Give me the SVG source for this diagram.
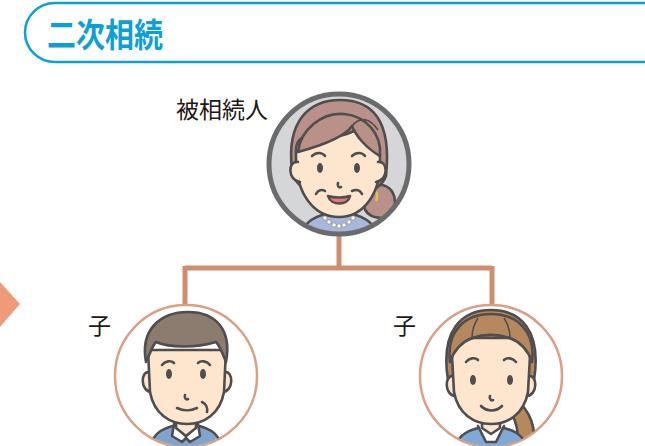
<svg xmlns="http://www.w3.org/2000/svg" width="645" height="446" viewBox="0 0 645 446">
  <style>
    .ttl { font-family: "Noto Sans CJK JP", "Noto Sans", sans-serif; font-weight: 700; font-size: 29px; fill: #0ba0d6; }
    .lbl { font-family: "Noto Sans CJK JP", "Noto Sans", sans-serif; font-size: 23px; fill: #231815; }
    .line { stroke: #cf8d70; stroke-width: 5; fill: none; }
    .ink { stroke: #4f4d4e; stroke-width: 2.6; stroke-linejoin: round; stroke-linecap: round; }
    .skin { fill: #fde6cd; }
    .feat { fill: #4f4d4e; }
  </style>
  <defs>
    <clipPath id="clipTop"><circle cx="339" cy="164" r="68"/></clipPath>
    <clipPath id="clipL"><circle cx="186" cy="376" r="70"/></clipPath>
    <clipPath id="clipR"><circle cx="491" cy="376" r="70"/></clipPath>
  </defs>

  <rect width="645" height="446" fill="#ffffff"/>

  <!-- header bar -->
  <g id="header">
    <rect x="25" y="3" width="650" height="59" rx="30" fill="#ffffff" stroke="#0ba0d6" stroke-width="2.5"/>
    <text class="ttl" transform="translate(47,47) scale(1,1.12)">二次相続</text>
  </g>

  <!-- side pointer -->
  <polygon points="0,282 20,304 0,327" fill="#ef9a78"/>

  <!-- connectors -->
  <g id="connectors">
    <path class="line" d="M339,234 V268 M185,268 H492 M185,266 V305 M492,266 V305"/>
  </g>

  <!-- decedent -->
  <g id="decedent">
    <text class="lbl" x="176" y="118">被相続人</text>
    <circle cx="339" cy="164" r="70" fill="#d5d6d8"/>
    <g clip-path="url(#clipTop)">
      <!-- body -->
      <path class="ink" d="M300,240 C302,222 315,214 339,212 C363,214 376,222 378,240 Z" fill="#a8b7dc"/>
      <!-- necklace -->
      <g fill="#ffffff" stroke="#8a8a8a" stroke-width="0.8">
        <circle cx="325" cy="218" r="2.2"/><circle cx="329" cy="222" r="2.2"/><circle cx="334" cy="225" r="2.2"/>
        <circle cx="339" cy="226" r="2.2"/><circle cx="344" cy="225" r="2.2"/><circle cx="349" cy="222" r="2.2"/>
        <circle cx="353" cy="218" r="2.2"/>
      </g>
      <!-- bun -->
      <path class="ink" d="M372,186 C392,180 400,200 392,212 C384,222 366,218 364,206 Z" fill="#b99189"/>
      <path d="M373,188 C377,191 378,196 376,201" stroke="#e4c24a" stroke-width="2.5" fill="none"/>
      <!-- hair back -->
      <path class="ink" d="M292,170 C286,120 310,100 340,100 C372,100 392,120 386,176 C382,186 374,190 370,190 L308,190 C300,188 294,180 292,170 Z" fill="#b99189"/>
      <!-- face -->
      <path class="ink skin" d="M296,150 C296,140 304,134 312,136 C326,140 346,136 360,128 C372,136 380,146 380,158 C382,192 364,217 339,217 C314,217 296,194 296,158 Z"/>
      <!-- ears -->
      <path class="ink skin" d="M298,162 C288,160 287,180 300,182"/>
      <path class="ink skin" d="M378,162 C388,160 389,180 376,182"/>
      <!-- fringe -->
      <path class="ink" d="M298,152 C300,130 322,112 344,114 C366,116 382,134 380,156 C366,148 356,136 352,126 C344,138 320,146 298,152 Z" fill="#b99189"/>
      <path d="M352,126 C360,116 370,118 378,130" stroke="#4f4d4e" stroke-width="1.6" fill="none"/>
      <!-- brows -->
      <path class="ink" d="M312,156 C316,152 322,152 325,156" fill="none" stroke-width="1.8"/>
      <path class="ink" d="M352,156 C356,152 362,152 365,156" fill="none" stroke-width="1.8"/>
      <!-- eyes -->
      <ellipse class="feat" cx="320" cy="168" rx="3" ry="5"/>
      <ellipse class="feat" cx="357" cy="168" rx="3" ry="5"/>
      <!-- nose -->
      <path class="ink" d="M338,183 C337,186 339,188 341,187" fill="none" stroke-width="1.8"/>
      <!-- cheek lines -->
      <path class="ink" d="M316,194 C318,190 322,189 325,191" fill="none" stroke-width="1.6"/>
      <path class="ink" d="M352,191 C356,189 360,190 362,194" fill="none" stroke-width="1.6"/>
      <!-- mouth -->
      <path class="ink" d="M328,196 C334,198 344,198 350,196 C348,206 331,206 328,196 Z" fill="#e9787a" stroke-width="2"/>
    </g>
    <circle cx="339" cy="164" r="70" fill="none" stroke="#6b6b6d" stroke-width="5"/>
  </g>

  <!-- left child -->
  <g id="child-left">
    <text class="lbl" x="88" y="334">子</text>
    <circle cx="186" cy="376" r="71" fill="#ffffff" stroke="#d9a086" stroke-width="2.5"/>
    <g clip-path="url(#clipL)">
      <!-- shirt -->
      <path class="ink" d="M150,450 C152,432 164,426 186,424 C208,426 220,432 222,450 Z" fill="#7fa5cf"/>
      <path class="ink" d="M174,424 L186,436 L198,424 L200,436 L190,442 L186,438 L182,442 L172,436 Z" fill="#ffffff" stroke-width="2"/>
      <!-- neck -->
      <path class="ink skin" d="M176,418 L176,428 L186,436 L196,428 L196,418 Z" stroke-width="2"/>
      <!-- ears -->
      <path class="ink skin" d="M150,372 C140,370 140,392 152,392"/>
      <path class="ink skin" d="M224,372 C234,370 234,392 222,392"/>
      <!-- face -->
      <path class="ink skin" d="M148,350 L150,392 C154,414 170,424 187,424 C204,424 220,414 224,392 L226,350 Z"/>
      <!-- hair -->
      <path class="ink" d="M146,362 C140,330 160,312 188,312 C216,312 232,330 226,362 C222,352 220,346 216,342 C196,348 170,348 156,342 C152,346 150,354 146,362 Z" fill="#8c7b6f"/>
      <!-- brows -->
      <path class="ink" d="M162,365 C165,361 171,360 174,363" fill="none" stroke-width="1.8"/>
      <path class="ink" d="M198,363 C201,360 207,361 210,365" fill="none" stroke-width="1.8"/>
      <!-- eyes -->
      <ellipse class="feat" cx="169" cy="374" rx="3" ry="5"/>
      <ellipse class="feat" cx="203" cy="374" rx="3" ry="5"/>
      <!-- nose -->
      <path class="ink" d="M185,395 C184,398 186,400 188,399" fill="none" stroke-width="1.8"/>
      <!-- mouth -->
      <path class="ink" d="M177,408 C183,411 191,411 197,408" fill="none" stroke-width="2"/>
      <path class="ink" d="M202,402 C206,404 208,408 207,412" fill="none" stroke-width="1.8"/>
    </g>
  </g>

  <!-- right child -->
  <g id="child-right">
    <text class="lbl" x="393" y="334">子</text>
    <circle cx="491" cy="376" r="71" fill="#ffffff" stroke="#d9a086" stroke-width="2.5"/>
    <g clip-path="url(#clipR)">
      <!-- ponytail -->
      <path class="ink" d="M516,400 C530,410 538,430 532,450 L516,450 C520,432 516,418 508,410 Z" fill="#b5895d"/>
      <!-- shirt -->
      <path class="ink" d="M455,450 C457,434 470,428 491,426 C512,428 525,434 527,450 Z" fill="#7fa9d6"/>
      <path class="ink" d="M478,426 L486,442 L496,442 L504,426" fill="#ffffff" stroke-width="2"/>
      <!-- neck -->
      <path class="ink skin" d="M482,418 L482,428 L491,434 L500,428 L500,418 Z" stroke-width="2"/>
      <!-- hair back -->
      <path class="ink" d="M448,380 C440,330 462,310 491,310 C520,310 542,330 534,380 Z" fill="#b5895d"/>
      <!-- ears -->
      <path class="ink skin" d="M454,376 C444,374 444,396 456,396"/>
      <path class="ink skin" d="M528,376 C538,374 538,396 526,396"/>
      <!-- face -->
      <path class="ink skin" d="M452,356 C452,346 462,340 474,338 L508,338 C520,340 530,346 530,356 L528,392 C524,414 508,424 491,424 C474,424 458,414 454,392 Z"/>
      <!-- hair top -->
      <path class="ink" d="M450,362 C446,330 466,314 491,314 C516,314 536,330 532,362 C528,350 520,342 510,338 C498,334 484,334 472,338 C462,342 454,350 450,362 Z" fill="#b5895d"/>
      <path d="M478,318 C474,324 472,332 472,338 M504,318 C508,324 510,332 510,338" stroke="#4f4d4e" stroke-width="1.6" fill="none"/>
      <!-- brows -->
      <path class="ink" d="M466,362 C469,358 475,357 478,360" fill="none" stroke-width="1.8"/>
      <path class="ink" d="M504,360 C507,357 513,358 516,362" fill="none" stroke-width="1.8"/>
      <!-- eyes -->
      <ellipse class="feat" cx="473" cy="380" rx="3" ry="5"/>
      <ellipse class="feat" cx="510" cy="380" rx="3" ry="5"/>
      <!-- nose -->
      <path class="ink" d="M490,396 C489,399 491,401 493,400" fill="none" stroke-width="1.8"/>
      <!-- mouth -->
      <path class="ink" d="M481,406 C487,412 496,412 502,406" fill="none" stroke-width="2"/>
    </g>
  </g>
</svg>
